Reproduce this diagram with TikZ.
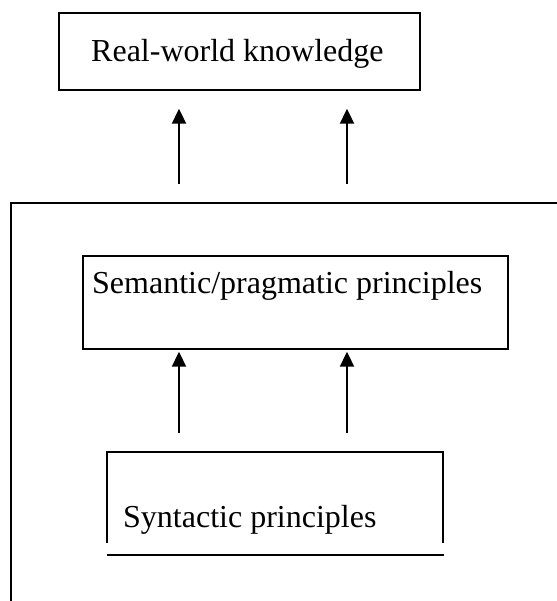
\documentclass[tikz,border=0pt]{standalone}
\usepackage{fontspec}
\setmainfont{Liberation Serif}
\usetikzlibrary{arrows.meta}
\begin{document}
\begin{tikzpicture}[x=1pt,y=-1pt,
  boxline/.style={draw=black,line width=1.7pt},
  box/.style={boxline,rectangle,inner sep=0pt,anchor=north west},
  lbl/.style={inner sep=0pt,anchor=base west,font=\fontsize{32}{38}\selectfont},
  arr/.style={line width=2pt,-{Triangle[width=14pt,length=15pt]}}]
\useasboundingbox (0,0) rectangle (556,601);
% top box
\node[box,minimum width=361pt,minimum height=77pt] (rw) at (58,12) {};
\node[lbl] (rwt) at (91,62) {Real-world knowledge};
% outer open frame
\coordinate (fbl) at (11,601);
\coordinate (ftl) at (11,203);
\coordinate (ftr) at (560,203);
\draw[boxline] (fbl) -- (ftl) -- (ftr);
% arrows to top box
\coordinate (a1) at (179,184);
\coordinate (a2) at (347,184);
\draw[arr,shorten >=18pt] (a1) -- (rw.south -| a1);
\draw[arr,shorten >=18pt] (a2) -- (rw.south -| a2);
% semantic box
\node[box,minimum width=425pt,minimum height=93pt] (sem) at (82,255) {};
\node[lbl] (semt) at (92,293) {Semantic/pragmatic principles};
% syntactic box (open bottom, separate base line)
\coordinate (s1) at (107,543);
\coordinate (s2) at (107,452);
\coordinate (s3) at (443,452);
\coordinate (s4) at (443,543);
\draw[boxline] (s1) -- (s2) -- (s3) -- (s4);
\coordinate (b1) at (107,555);
\coordinate (b2) at (444,555);
\draw[boxline] (b1) -- (b2);
\node[lbl] (synt) at (123,527) {Syntactic principles};
% arrows syntactic -> semantic
\coordinate (c1) at (179,452);
\coordinate (c2) at (347,452);
\draw[arr,shorten <=19pt,shorten >=2pt] (c1) -- (sem.south -| c1);
\draw[arr,shorten <=19pt,shorten >=2pt] (c2) -- (sem.south -| c2);
\end{tikzpicture}
\end{document}
